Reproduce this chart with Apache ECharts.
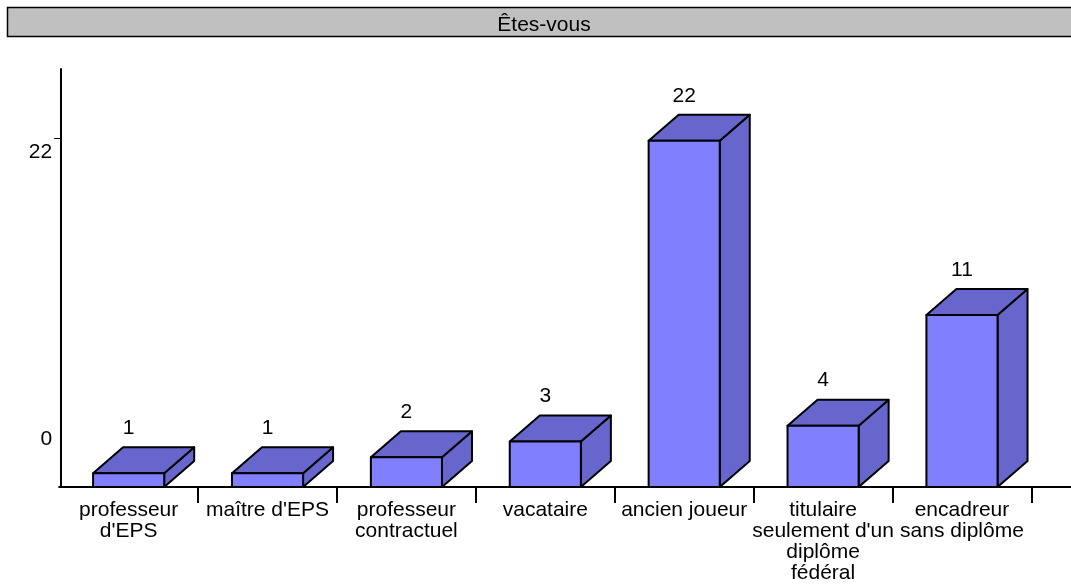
<!DOCTYPE html>
<html><head><meta charset="utf-8">
<style>html,body{margin:0;padding:0;background:#fff}#c{width:1071px;height:584px}</style>
<script src="https://cdn.jsdelivr.net/npm/echarts@6/dist/echarts.min.js"></script>
</head><body><div id="c"></div>
<script>
const titleText = 'Êtes-vous';
const categories = ["professeur\nd'EPS", "maître d'EPS", "professeur\ncontractuel", "vacataire", "ancien joueur", "titulaire\nseulement d'un\ndiplôme\nfédéral", "encadreur\nsans diplôme"];
const values = [1, 1, 2, 3, 22, 4, 11];
const font = '"Liberation Sans", Arial, sans-serif';
const Y_MIN = 0.125;
const chart = echarts.init(document.getElementById('c'), null, {renderer: 'canvas'});
chart.setOption({
  animation: false,
  backgroundColor: '#fff',
  title: {text: titleText, left: 539, top: 9, textAlign: 'center',
    textStyle: {fontFamily: font, fontSize: 21, fontWeight: 'normal', color: '#000', lineHeight: 22}},
  graphic: [{type: 'rect', z: -1, shape: {x: 7.5, y: 7.5, width: 1070, height: 29},
    style: {fill: '#c0c0c0', stroke: '#000', lineWidth: 1.5}}],
  grid: {left: 59.2, right: 0, top: 69, bottom: 95},
  xAxis: {type: 'value', min: 0, max: 7.285, splitLine: {show: false},
    axisLine: {onZero: false, lineStyle: {color: '#000', width: 2}},
    axisTick: {customValues: [1, 2, 3, 4, 5, 6, 7], length: 16, lineStyle: {color: '#000', width: 2}},
    axisLabel: {customValues: categories.map((c, i) => i + 0.5), margin: 13, showMinLabel: true, showMaxLabel: true,
      formatter: v => categories[Math.floor(v)], hideOverlap: false,
      fontFamily: font, fontSize: 21, lineHeight: 21, color: '#000'}},
  yAxis: {type: 'value', min: Y_MIN, max: 26.54, offset: -2, splitLine: {show: false},
    axisLine: {show: true, onZero: false, lineStyle: {color: '#000', width: 2}},
    axisTick: {customValues: [22.15], length: 7, lineStyle: {color: '#000', width: 1}},
    axisLabel: {customValues: [Y_MIN, 22], margin: 9, fontFamily: font, fontSize: 21, color: '#000',
      formatter: v => v === 22 ? '{b|22}' : '{a|0}',
      rich: {a: {fontFamily: font, fontSize: 21, padding: [0, 0, 96, 0]}, b: {fontFamily: font, fontSize: 21, padding: [22, 0, 0, 0]}}}},
  series: [{
    type: 'custom',
    data: values.map((v, i) => [i + 0.5, v]),
    encode: {x: 0, y: 1},
    renderItem(params, api) {
      const x = api.value(0), v = api.value(1);
      const top = api.coord([x, v]), base = api.coord([x, Y_MIN]);
      const w = api.size([1, 0])[0] * 0.512, dx = 30, dy = 26;
      const l = top[0] - w / 2, r = top[0] + w / 2, t = top[1], b = base[1];
      const line = {stroke: '#000', lineWidth: 2, lineJoin: 'round'};
      return {type: 'group', children: [
        {type: 'polygon', shape: {points: [[r, b], [r + dx, b - dy], [r + dx, t - dy], [r, t]]}, style: {fill: '#6666cc', ...line}},
        {type: 'polygon', shape: {points: [[l, t], [l + dx, t - dy], [r + dx, t - dy], [r, t]]}, style: {fill: '#6666cc', ...line}},
        {type: 'rect', shape: {x: l, y: t, width: r - l, height: b - t}, style: {fill: '#8080ff', ...line}},
        {type: 'text', style: {text: String(v), x: top[0], y: t - 45, align: 'center', verticalAlign: 'middle',
          fontFamily: font, fontSize: 21, fill: '#000'}}
      ]};
    }
  }]
});
</script></body></html>
